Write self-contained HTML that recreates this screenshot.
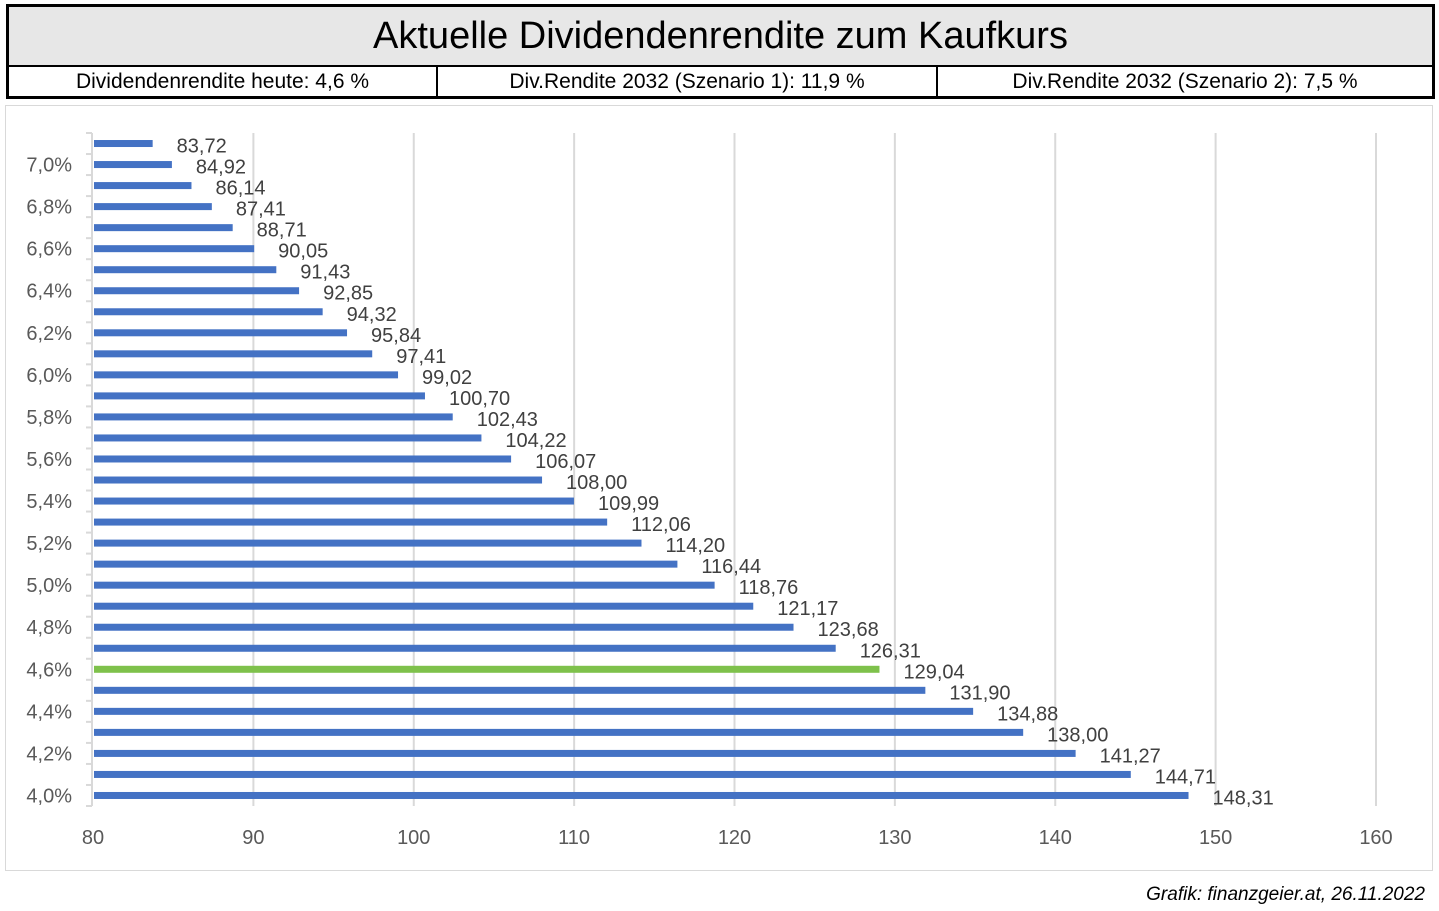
<!DOCTYPE html>
<html><head><meta charset="utf-8"><style>
body{margin:0;width:1439px;height:911px;background:#fff;font-family:"Liberation Sans",sans-serif;position:relative;overflow:hidden}
.abs{position:absolute}
</style></head><body>
<div class="abs" style="left:6px;top:4px;width:1423px;height:58px;border:3px solid #000;border-bottom:2px solid #000;background:#e7e7e7;text-align:center;font-size:38px;line-height:58px;color:#000">Aktuelle Dividendenrendite zum Kaufkurs</div>
<div class="abs" style="left:6px;top:65px;width:1423px;height:31px;border:3px solid #000;border-top:none;font-size:21px;line-height:33px;color:#000">
<div class="abs" style="left:0;width:427px;text-align:center;border-right:2px solid #000;height:31px">Dividendenrendite heute: 4,6 %</div>
<div class="abs" style="left:429px;width:498px;text-align:center;border-right:2px solid #000;height:31px">Div.Rendite 2032 (Szenario 1): 11,9 %</div>
<div class="abs" style="left:929px;width:494px;text-align:center;height:31px">Div.Rendite 2032 (Szenario 2): 7,5 %</div>
</div>
<div class="abs" style="left:5px;top:105px;width:1426px;height:764px;border:1px solid #d9d9d9"></div>
<svg class="abs" style="left:0;top:0" width="1439" height="911"><g id="g"></g></svg>
<div class="abs" style="right:14px;top:884px;font-size:19px;font-style:italic;color:#000">Grafik: finanzgeier.at, 26.11.2022</div>
<script>
const categories=["4,0%","4,1%","4,2%","4,3%","4,4%","4,5%","4,6%","4,7%","4,8%","4,9%","5,0%","5,1%","5,2%","5,3%","5,4%","5,5%","5,6%","5,7%","5,8%","5,9%","6,0%","6,1%","6,2%","6,3%","6,4%","6,5%","6,6%","6,7%","6,8%","6,9%","7,0%","7,1%"];
const values=[148.31,144.71,141.27,138.00,134.88,131.90,129.04,126.31,123.68,121.17,118.76,116.44,114.20,112.06,109.99,108.00,106.07,104.22,102.43,100.70,99.02,97.41,95.84,94.32,92.85,91.43,90.05,88.71,87.41,86.14,84.92,83.72];
const xTicks=[80,90,100,110,120,130,140,150,160];
const highlight="4,6%";
const NS="http://www.w3.org/2000/svg",g=document.getElementById('g');
const x0=93,x1=1376,vmin=80,vmax=160,yTop=133,yBot=806;
const X=v=>x0+(v-vmin)/(vmax-vmin)*(x1-x0);
const band=(yBot-yTop)/categories.length;
const Yc=i=>yBot-band*(i+0.5);
function mk(t,a){const e=document.createElementNS(NS,t);for(const k in a)e.setAttribute(k,a[k]);g.appendChild(e);return e;}
xTicks.forEach(t=>{
 if(t>vmin){const l=mk('line',{x1:X(t),x2:X(t),y1:yTop,y2:yBot,stroke:'#d9d9d9','stroke-width':2});
 
 }
 const tx=mk('text',{x:X(t),y:844,'text-anchor':'middle','font-size':20,fill:'#595959'});tx.textContent=t;
 
 
});
const ax=mk('line',{x1:92,x2:92,y1:yTop,y2:yBot,stroke:'#d9d9d9','stroke-width':2});


for(let i=0;i<=categories.length;i++){const y=yBot-band*i;const tk=mk('line',{x1:86,x2:92,y1:y,y2:y,stroke:'#d9d9d9','stroke-width':2});
 
 }
categories.forEach((c,i)=>{
 const v=values[i],y=Yc(i);
 const r=mk('rect',{x:X(vmin)+1,y:y-3.5,width:X(v)-X(vmin)-1,height:7,fill:c===highlight?'#7ec14b':'#4472c4'});
 
 
 const lb=mk('text',{x:X(v)+24,y:y+9,'font-size':20,fill:'#404040'});lb.textContent=v.toFixed(2).replace('.',',');
 
 
 if(i%2===0){const t=mk('text',{x:72,y:y+7,'text-anchor':'end','font-size':20,fill:'#595959'});t.textContent=c;
 
 }
});
</script>
</body></html>
